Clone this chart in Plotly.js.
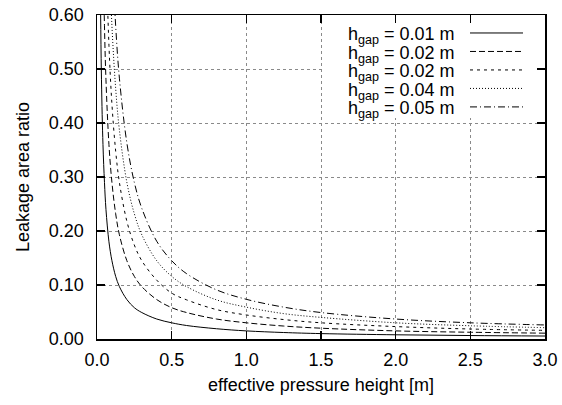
<!DOCTYPE html>
<html>
<head>
<meta charset="utf-8">
<script src="https://cdn.plot.ly/plotly-3.0.1.min.js"></script>
<style>html,body{margin:0;padding:0;background:#fff;}#chart{width:562px;height:405px;}</style>
</head>
<body>
<div id="chart"></div>
<script>
// effective pressure height [m]
const H = [0.02, 0.03, 0.04, 0.05, 0.06, 0.08, 0.1, 0.125, 0.15, 0.2, 0.25, 0.3, 0.4, 0.5, 0.6, 0.8, 1.0, 1.25, 1.5, 2.0, 2.5, 3.0];
// leakage area ratio, one array per gap height
const gap001 = [0.72, 0.48, 0.36, 0.29, 0.24, 0.18, 0.145, 0.116, 0.097, 0.073, 0.058, 0.049, 0.037, 0.030, 0.025, 0.019, 0.015, 0.012, 0.010, 0.0078, 0.0064, 0.0055];
const gap002 = [1.45, 0.97, 0.73, 0.58, 0.48, 0.36, 0.29, 0.232, 0.193, 0.145, 0.116, 0.097, 0.073, 0.058, 0.049, 0.037, 0.030, 0.024, 0.020, 0.015, 0.0125, 0.0108];
const gap003 = [2.18, 1.45, 1.09, 0.87, 0.725, 0.544, 0.435, 0.348, 0.29, 0.218, 0.174, 0.145, 0.109, 0.085, 0.0725, 0.0545, 0.0445, 0.036, 0.030, 0.023, 0.0185, 0.016];
const gap004 = [2.9, 1.93, 1.45, 1.16, 0.97, 0.725, 0.58, 0.464, 0.387, 0.29, 0.232, 0.193, 0.145, 0.116, 0.097, 0.0725, 0.059, 0.047, 0.040, 0.030, 0.0245, 0.021];
const gap005 = [3.6, 2.42, 1.81, 1.45, 1.21, 0.906, 0.725, 0.58, 0.483, 0.363, 0.29, 0.242, 0.181, 0.145, 0.121, 0.091, 0.0735, 0.059, 0.049, 0.037, 0.030, 0.026];
const labels = ['h<sub>gap</sub> = 0.01 m', 'h<sub>gap</sub> = 0.02 m', 'h<sub>gap</sub> = 0.02 m', 'h<sub>gap</sub> = 0.04 m', 'h<sub>gap</sub> = 0.05 m'];
const xTicks = [0, 0.5, 1.0, 1.5, 2.0, 2.5, 3.0];
const yTicks = [0, 0.1, 0.2, 0.3, 0.4, 0.5, 0.6];

const series = [gap001, gap002, gap003, gap004, gap005];
const dashes = ['solid', '6px,3px', '3px,4px', '1px,2px', '7px,3px,1px,3px'];

const traces = series.map((ys, i) => ({
  x: H, y: ys, type: 'scatter', mode: 'lines', name: labels[i],
  line: {color: '#000', width: 1, dash: dashes[i], shape: 'spline', smoothing: 1},
  showlegend: false, hoverinfo: 'skip'
}));

// plot area in pixels
const L = 97, R = 545, T = 15, B = 339.3;
const XMAX = 3, YMAX = 0.6;
const px2x = p => (p - L) / (R - L);
const px2y = p => (B - p) / (B - T);

const rowY = [33, 51.5, 70, 88.5, 107];
const annotations = labels.map((t, i) => ({
  text: t, xref: 'paper', yref: 'paper', x: px2x(457), y: px2y(rowY[i] + 3),
  xanchor: 'right', yanchor: 'middle', showarrow: false,
  font: {family: 'Liberation Sans, Arial, sans-serif', size: 18, color: '#000'}
}));
// opaque key box (hides the grid behind the key)
const shapes = [{
  type: 'rect', xref: 'x', yref: 'y', layer: 'between',
  x0: px2x(324) * XMAX, x1: XMAX, y0: px2y(118) * YMAX, y1: YMAX,
  fillcolor: '#fff', line: {width: 0}
}];
labels.forEach((t, i) => shapes.push({
  type: 'line', xref: 'paper', yref: 'paper', layer: 'above',
  x0: px2x(470), x1: px2x(523), y0: px2y(rowY[i]), y1: px2y(rowY[i]),
  line: {color: '#000', width: 1, dash: dashes[i]}
}));

const axisCommon = {
  showline: true, linecolor: '#000', linewidth: 1.5, mirror: 'allticks',
  ticks: 'inside', ticklen: 8, tickwidth: 1.3, tickcolor: '#000',
  showgrid: true, gridcolor: '#8a8a8a', gridwidth: 1, griddash: 'dot',
  zeroline: false, tickmode: 'array', automargin: false,
  tickfont: {family: 'Liberation Sans, Arial, sans-serif', size: 18, color: '#000'}
};

const layout = {
  width: 562, height: 405,
  margin: {l: 97, r: 17, t: 15, b: 66},
  paper_bgcolor: '#fff', plot_bgcolor: '#fff',
  font: {family: 'Liberation Sans, Arial, sans-serif', size: 18, color: '#000'},
  showlegend: false,
  xaxis: Object.assign({}, axisCommon, {
    range: [0, XMAX], tickvals: xTicks, ticktext: xTicks.map(v => v.toFixed(1)),
    ticklabelstandoff: 4,
    title: {text: 'effective pressure height [m]', standoff: 9, font: {size: 18}}
  }),
  yaxis: Object.assign({}, axisCommon, {
    range: [0, YMAX], tickvals: yTicks, ticktext: yTicks.map(v => v.toFixed(2)),
    ticklabelstandoff: 8,
    title: {text: 'Leakage area ratio', standoff: 14, font: {size: 18}}
  }),
  annotations: annotations,
  shapes: shapes
};

Plotly.newPlot('chart', traces, layout, {staticPlot: true, displayModeBar: false});
</script>
</body>
</html>
